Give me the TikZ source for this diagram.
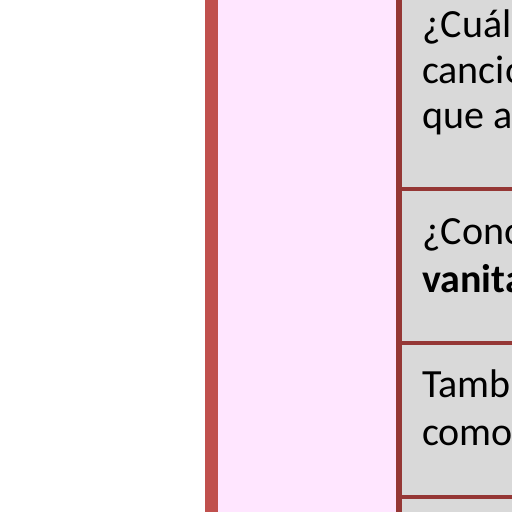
\documentclass[tikz,border=0pt]{standalone}
\usepackage{fontspec}
\setmainfont{Carlito}
\definecolor{barred}{RGB}{192,80,77}
\definecolor{pinkbg}{RGB}{255,230,255}
\definecolor{darkred}{RGB}{149,55,53}
\definecolor{cellgray}{RGB}{217,217,217}
\begin{document}
\begin{tikzpicture}[x=1pt,y=-1pt,
  txt/.style={anchor=base west, inner sep=0pt, font=\fontsize{40}{48}\selectfont}]
\useasboundingbox (0,0) rectangle (512,512);
\clip (0,0) rectangle (512,512);
\fill[white] (0,0) rectangle (512,512);
\fill[barred] (205,0) rectangle (218,512);
\fill[pinkbg] (218,0) rectangle (396,512);
\fill[cellgray] (402,0) rectangle (512,512);
\fill[darkred] (396,0) rectangle (402,512);
\fill[darkred] (402,187) rectangle (512,191);
\fill[darkred] (402,341) rectangle (512,345);
\fill[darkred] (402,495) rectangle (512,499);
\node[txt] (c1a) at (422,37) {¿Cuál es};
\node[txt] (c1b) at (422,83) {canción};
\node[txt] (c1c) at (422,128) {que a};
\node[txt] (c2a) at (422,244) {¿Conoces};
\node[txt] (c2b) at (422,292) {\bfseries vanitas};
\node[txt] (c3a) at (422,397) {También};
\node[txt] (c3b) at (422,445) {como};
\end{tikzpicture}
\end{document}
